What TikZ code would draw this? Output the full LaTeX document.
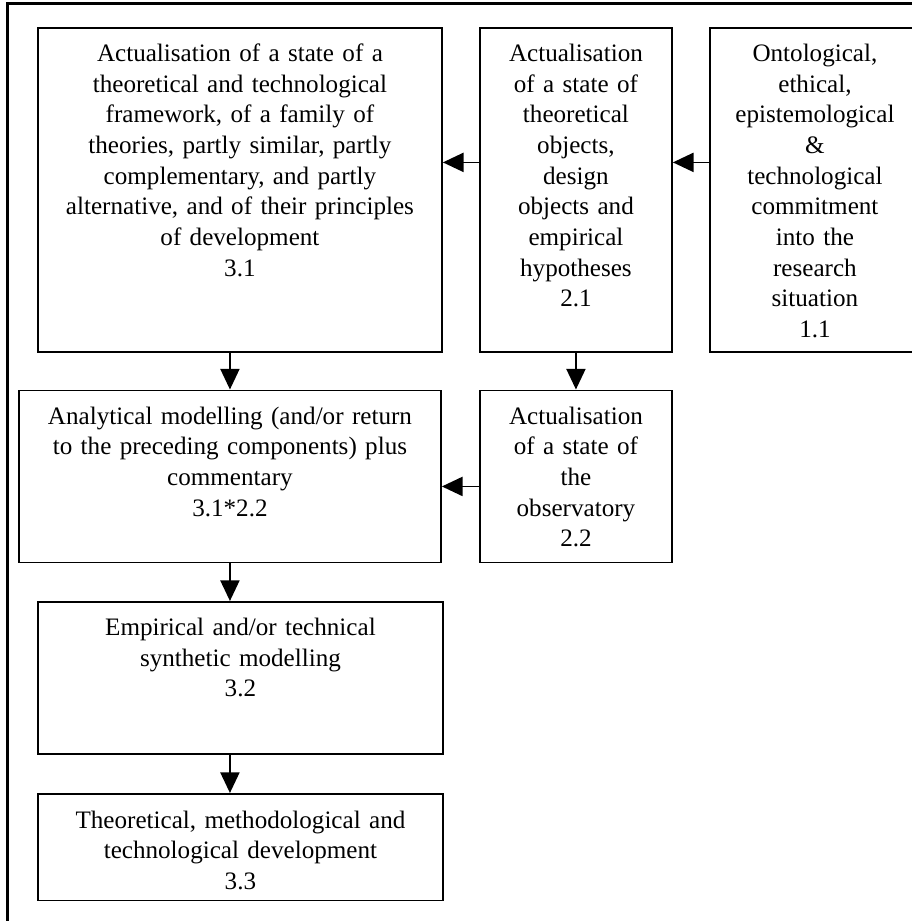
\documentclass[tikz,border=0pt]{standalone}
\usepackage{fontspec}
\setmainfont{Liberation Serif}
\usetikzlibrary{arrows.meta,calc}
\begin{document}
\begin{tikzpicture}[x=0.45pt,y=-0.45pt,
  frame/.style={line width=1.1pt},
  box/.style={draw,line width=0.85pt,inner sep=0pt,anchor=north west},
  txt/.style={align=center,inner sep=0pt,anchor=base,
    font=\fontsize{11.3pt}{13.8pt}\selectfont},
  arr/.style={line width=0.8pt,-{Triangle[length=9.3pt,width=8.6pt]}}]
\useasboundingbox (0,0) rectangle (911,921);
% outer frame (cropped at right and bottom)
\draw[frame] (7.3,3.5) rectangle (1000,1000);
% boxes
\node[box,minimum width=404*0.45pt,minimum height=324*0.45pt] (b31) at (37,27) {};
\node[box,minimum width=192*0.45pt,minimum height=324*0.45pt] (b21) at (479,27) {};
\node[box,minimum width=210*0.45pt,minimum height=324*0.45pt] (b11) at (709,27) {};
\node[box,minimum width=422*0.45pt,minimum height=172*0.45pt] (b312) at (18,389.5) {};
\node[box,minimum width=192*0.45pt,minimum height=172*0.45pt] (b22) at (479,389.5) {};
\node[box,minimum width=405*0.45pt,minimum height=152*0.45pt] (b32) at (37,601) {};
\node[box,minimum width=405*0.45pt,minimum height=106.5*0.45pt] (b33) at (37,793) {};
% texts
\node[txt,text width=400*0.45pt] (t31) at ($(b31.north)+(0,34.5)$)
  {Actualisation of a state of a\\ theoretical and technological\\ framework, of a family of\\ theories, partly similar, partly\\ complementary, and partly\\ alternative, and of their principles\\ of development\\ 3.1};
\node[txt,text width=188*0.45pt] (t21) at ($(b21.north)+(0,34.5)$)
  {Actualisation\\ of a state of\\ theoretical\\ objects,\\ design\\ objects and\\ empirical\\ hypotheses\\ 2.1};
\node[txt,text width=206*0.45pt] (t11) at ($(b11.north)+(0,34.5)$)
  {Ontological,\\ ethical,\\ epistemological\\ \&\\ technological\\ commitment\\ into the\\ research\\ situation\\ 1.1};
\node[txt,text width=418*0.45pt] (t312) at ($(b312.north)+(0,34.5)$)
  {Analytical modelling (and/or return\\ to the preceding components) plus\\ commentary\\ 3.1*2.2};
\node[txt,text width=188*0.45pt] (t22) at ($(b22.north)+(0,34.5)$)
  {Actualisation\\ of a state of\\ the\\ observatory\\ 2.2};
\node[txt,text width=400*0.45pt] (t32) at ($(b32.north)+(0,34.5)$)
  {Empirical and/or technical\\ synthetic modelling\\ 3.2};
\node[txt,text width=400*0.45pt] (t33) at ($(b33.north)+(0,35)$)
  {Theoretical, methodological and\\ technological development\\ 3.3};
% connectors
\draw[arr] ([yshift=12.4pt]b21.west) -- ([yshift=12.4pt]b31.east);
\draw[arr] ([yshift=12.4pt]b11.west) -- ([yshift=12.4pt]b21.east);
\draw[arr] (b31.south -| b312.north) -- (b312.north);
\draw[arr] (b21.south) -- (b22.north);
\draw[arr] ([yshift=-4.5pt]b22.west) -- ([yshift=-4.5pt]b312.east);
\draw[arr] (b312.south) -- (b32.north -| b312.south);
\draw[arr] (b32.south -| b312.south) -- (b33.north -| b312.south);
\end{tikzpicture}
\end{document}
